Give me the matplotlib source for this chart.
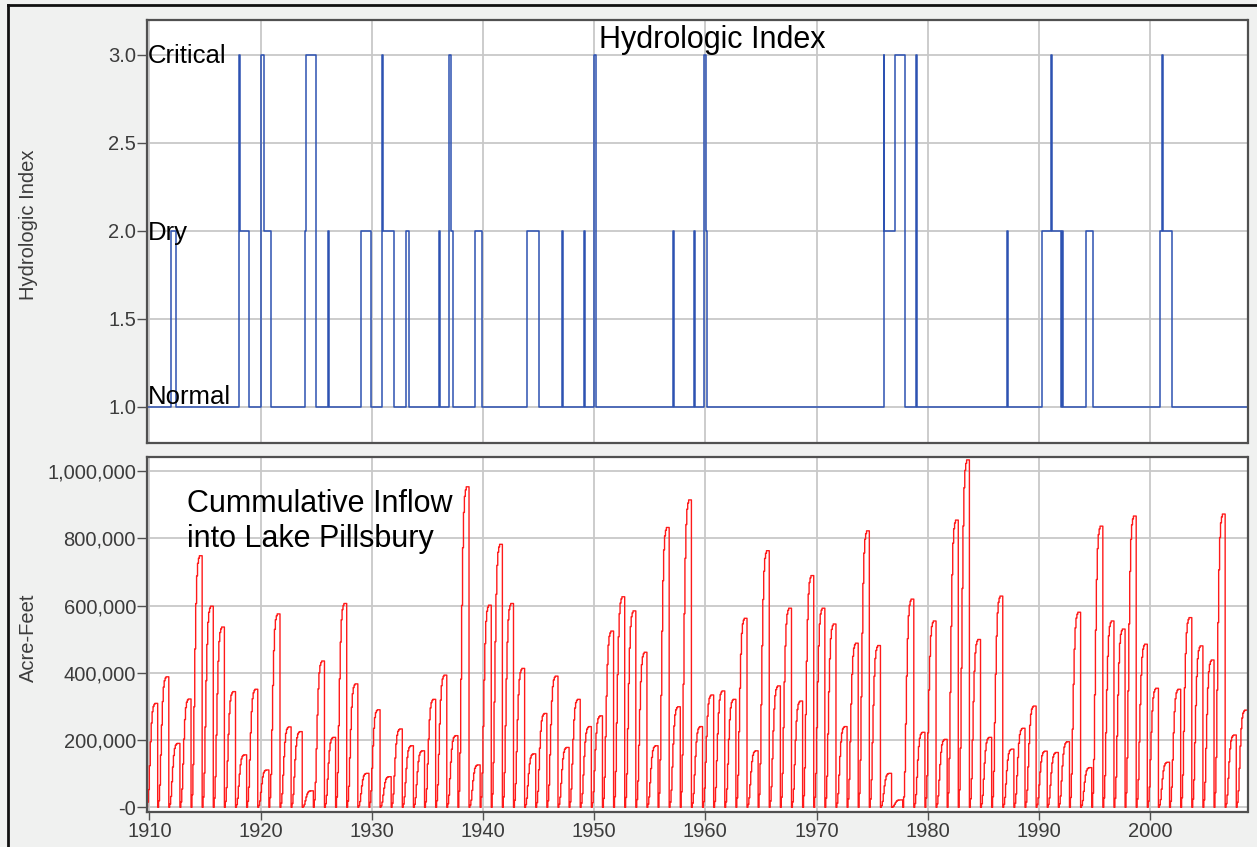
import matplotlib
matplotlib.use("Agg")
import matplotlib.pyplot as plt
from matplotlib.lines import Line2D
from matplotlib.ticker import FixedLocator, FixedFormatter

# ---------------- data ----------------
# Hydrologic index: step changes (decimal year -> index value, held until next change)
HI_TIMES = [1909.75, 1911.93, 1912.42, 1918.08, 1918.17, 1918.99, 1920.04, 1920.27,
            1920.97, 1923.97, 1924.12, 1925.02, 1926.08, 1926.19, 1929.07, 1929.96,
            1930.92, 1931.05, 1931.97, 1933.10, 1933.33, 1936.02, 1936.10, 1936.92,
            1937.13, 1937.31, 1939.26, 1939.92, 1944.00, 1945.02, 1947.09, 1947.17,
            1949.06, 1949.18, 1950.00, 1950.14, 1957.07, 1957.16, 1958.99, 1959.11,
            1959.92, 1960.04, 1960.19, 1976.03, 1976.10, 1977.02, 1977.92, 1978.94,
            1979.06, 1987.09, 1987.21, 1990.30, 1991.11, 1991.20, 1992.00, 1992.06,
            1992.14, 1994.20, 1994.91, 2000.91, 2001.05, 2001.18, 2001.93, 2008.76]
HI_VALUES = [1, 2, 1, 3, 2, 1, 3, 2,
             1, 2, 3, 1, 2, 1, 2, 1,
             3, 2, 1, 2, 1, 2, 1, 3,
             2, 1, 2, 1, 2, 1, 2, 1,
             2, 1, 3, 1, 2, 1, 2, 1,
             3, 2, 1, 3, 2, 3, 1, 3,
             1, 2, 1, 2, 3, 2, 1, 2,
             1, 2, 1, 2, 3, 2, 1, 1]

# Cumulative inflow into Lake Pillsbury: water-year total (thousand acre-feet)
WATER_YEARS = list(range(1910, 2009))
PEAK_INFLOW_KAF = [
    309, 388, 190, 322, 748, 598, 536, 344, 156, 351,   # 1910-1919
    111, 575, 239, 225, 49, 435, 208, 606, 367, 101,    # 1920-1929
    290, 91, 233, 183, 168, 321, 393, 213, 953, 126,    # 1930-1939
    601, 782, 606, 413, 159, 279, 390, 178, 321, 240,   # 1940-1949
    272, 524, 626, 584, 461, 183, 832, 299, 914, 240,   # 1950-1959
    334, 346, 321, 562, 168, 763, 361, 592, 316, 689,   # 1960-1969
    592, 545, 240, 488, 822, 481, 101, 22, 619, 223,    # 1970-1979
    554, 202, 854, 1033, 499, 208, 628, 173, 235, 301,  # 1980-1989
    167, 163, 195, 580, 118, 836, 554, 530, 866, 485,   # 1990-1999
    354, 134, 351, 564, 480, 438, 872, 215, 289,        # 2000-2008
]
# cumulative share of the water-year total, month by month (Oct .. Sep)
MONTH_SHARE = [0.0, 0.05, 0.17, 0.40, 0.63, 0.81, 0.92, 0.97, 0.99, 1.0, 1.0, 1.0]

HI_TICKS = [1.0, 1.5, 2.0, 2.5, 3.0]
HI_TICK_LABELS = ["1.0", "1.5", "2.0", "2.5", "3.0"]
AF_TICKS = [0, 200000, 400000, 600000, 800000, 1000000]
AF_TICK_LABELS = ["-0", "200,000", "400,000", "600,000", "800,000", "1,000,000"]
YEAR_TICKS = list(range(1910, 2001, 10))
YEAR_TICK_LABELS = [str(y) for y in YEAR_TICKS]
LEVEL_LABELS = [(2.953, "Critical"), (1.947, "Dry"), (1.014, "Normal")]

# ---------------- figure ----------------
W, H, DPI = 1257, 847, 100
plt.rcParams["font.family"] = ["Liberation Sans", "DejaVu Sans"]
fig = plt.figure(figsize=(W / DPI, H / DPI), dpi=DPI, facecolor="#f0f1f0")

XLIM = (1909.79, 2008.76)
ax1 = fig.add_axes([147 / W, 1 - 443 / H, 1100.5 / W, 423 / H])
ax2 = fig.add_axes([147 / W, 1 - 812 / H, 1100.5 / W, 355 / H])

for ax in (ax1, ax2):
    ax.set_facecolor("white")
    ax.set_xlim(*XLIM)
    ax.set_axisbelow(True)
    ax.grid(True, color="#c8c8c8", lw=1.3)
    for s in ax.spines.values():
        s.set_color("#505050")
        s.set_linewidth(1.6)
    ax.xaxis.set_major_locator(FixedLocator(YEAR_TICKS))
    ax.tick_params(axis="y", direction="out", length=7, width=1, color="#505050",
                   labelsize=14.5, labelcolor="#3c3c3c", pad=1)

# top panel
ax1.plot(HI_TIMES, HI_VALUES, drawstyle="steps-post", color="#2d52b2", lw=1.1)
ax1.set_ylim(0.793, 3.199)
ax1.yaxis.set_major_locator(FixedLocator(HI_TICKS))
ax1.yaxis.set_major_formatter(FixedFormatter(HI_TICK_LABELS))
ax1.tick_params(axis="x", length=0, labelbottom=False)
ax1.set_ylabel("Hydrologic Index", fontsize=14.5, color="#3c3c3c")
ax1.yaxis.set_label_coords(-0.0995, 0.515)
for yv, txt in LEVEL_LABELS:
    ax1.text(0.001, yv, txt, transform=ax1.get_yaxis_transform(), ha="left",
             va="baseline", fontsize=18.5, color="black")
ax1.text(1950.44, 3.04, "Hydrologic Index", ha="left", va="baseline",
         fontsize=22, color="black")

# bottom panel
times, vals = [], []
for k, wy in enumerate(WATER_YEARS):
    for m, share in enumerate(MONTH_SHARE):
        times.append(wy - 1 + 0.75 + m / 12.0)
        vals.append(PEAK_INFLOW_KAF[k] * 1000 * share)
times.append(WATER_YEARS[-1] + 0.75)
vals.append(vals[-1])
ax2.plot(times, vals, drawstyle="steps-post", color="#ff1a1a", lw=1.0)
ax2.set_ylim(-14000, 1041600)
ax2.yaxis.set_major_locator(FixedLocator(AF_TICKS))
ax2.yaxis.set_major_formatter(FixedFormatter(AF_TICK_LABELS))
ax2.xaxis.set_major_formatter(FixedFormatter(YEAR_TICK_LABELS))
ax2.tick_params(axis="x", direction="out", length=6, width=1, color="#505050",
                labelsize=14.5, labelcolor="#3c3c3c", pad=1)
ax2.set_ylabel("Acre-Feet", fontsize=14.5, color="#3c3c3c")
ax2.yaxis.set_label_coords(-0.0995, 0.49)
ax2.text(1913.39, 879000, "Cummulative Inflow", ha="left", va="baseline",
         fontsize=22, color="black")
ax2.text(1913.39, 775000, "into Lake Pillsbury", ha="left", va="baseline",
         fontsize=22, color="black")

# window border (top and left)
fig.add_artist(Line2D([8 / W, 1.0], [1 - 5 / H, 1 - 5 / H], transform=fig.transFigure,
                      color="#111111", lw=2))
fig.add_artist(Line2D([8 / W, 8 / W], [0, 1 - 5 / H], transform=fig.transFigure,
                      color="#111111", lw=2))

fig.savefig("out.png", dpi=DPI, facecolor=fig.get_facecolor())
